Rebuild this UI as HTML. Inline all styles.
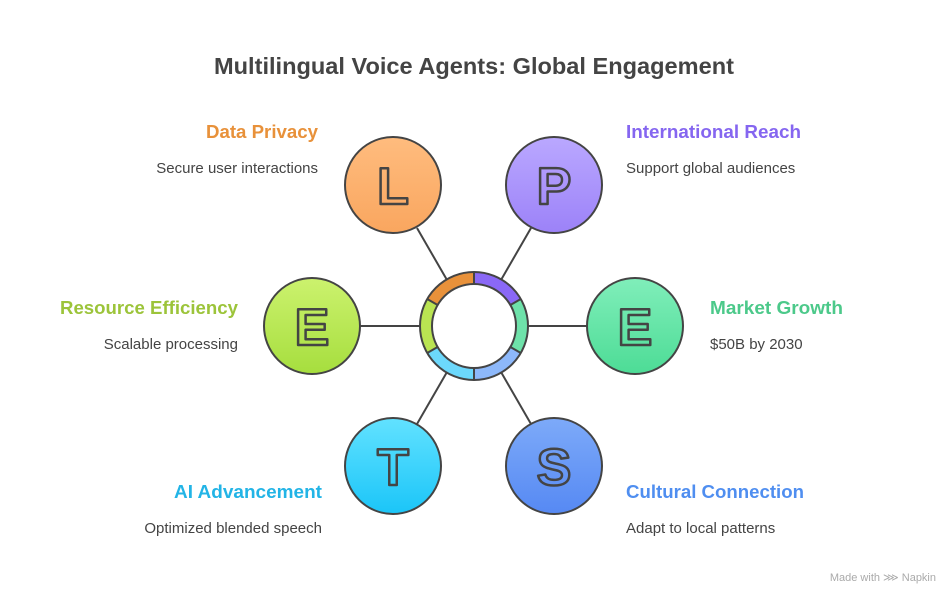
<!DOCTYPE html>
<html><head><meta charset="utf-8"><style>
html,body{margin:0;padding:0;background:#fff;}
svg{display:block;}
text{font-family:"Liberation Sans",sans-serif;}
</style></head><body>
<svg width="948" height="592" viewBox="0 0 948 592" xmlns="http://www.w3.org/2000/svg">
<defs>
<linearGradient id="gL" x1="0" y1="0" x2="0" y2="1"><stop offset="0" stop-color="#FFBC7E"/><stop offset="1" stop-color="#F9A65F"/></linearGradient>
<linearGradient id="gP" x1="0" y1="0" x2="0" y2="1"><stop offset="0" stop-color="#BAA8FF"/><stop offset="1" stop-color="#9C82F8"/></linearGradient>
<linearGradient id="gE2" x1="0" y1="0" x2="0" y2="1"><stop offset="0" stop-color="#80EEBA"/><stop offset="1" stop-color="#4DDC96"/></linearGradient>
<linearGradient id="gS" x1="0" y1="0" x2="0" y2="1"><stop offset="0" stop-color="#7DAAF9"/><stop offset="1" stop-color="#5689F3"/></linearGradient>
<linearGradient id="gT" x1="0" y1="0" x2="0" y2="1"><stop offset="0" stop-color="#62E2FF"/><stop offset="1" stop-color="#1BC5F8"/></linearGradient>
<linearGradient id="gE1" x1="0" y1="0" x2="0" y2="1"><stop offset="0" stop-color="#CCF26E"/><stop offset="1" stop-color="#A6DE3E"/></linearGradient>
</defs>
<text x="474" y="74" text-anchor="middle" font-size="23" font-weight="bold" fill="#444" textLength="520" lengthAdjust="spacingAndGlyphs">Multilingual Voice Agents: Global Engagement</text>

<g stroke="#444" stroke-width="2">
<line x1="447" y1="280" x2="417" y2="228"/>
<line x1="501" y1="280" x2="531" y2="228"/>
<line x1="528" y1="326" x2="587" y2="326"/>
<line x1="420" y1="326" x2="359" y2="326"/>
<line x1="447" y1="372" x2="417" y2="424"/>
<line x1="501" y1="372" x2="531" y2="424"/>
</g>

<g fill="none" stroke-width="12">
<path d="M432.43 302 A48 48 0 0 1 474 278" stroke="#E8913A"/>
<path d="M474 278 A48 48 0 0 1 515.57 302" stroke="#8A68F6"/>
<path d="M515.57 302 A48 48 0 0 1 515.57 350" stroke="#6EE2AA"/>
<path d="M515.57 350 A48 48 0 0 1 474 374" stroke="#8DB8FA"/>
<path d="M474 374 A48 48 0 0 1 432.43 350" stroke="#6CD8FC"/>
<path d="M432.43 350 A48 48 0 0 1 432.43 302" stroke="#BAE452"/>
</g>
<g fill="none" stroke="#444" stroke-width="2">
<circle cx="474" cy="326" r="54"/>
<circle cx="474" cy="326" r="42"/>
<line x1="474" y1="272" x2="474" y2="284"/>
<line x1="474" y1="368" x2="474" y2="380"/>
<line x1="510.4" y1="305" x2="520.8" y2="299"/>
<line x1="510.4" y1="347" x2="520.8" y2="353"/>
<line x1="437.6" y1="305" x2="427.2" y2="299"/>
<line x1="437.6" y1="347" x2="427.2" y2="353"/>
</g>

<g stroke="#444" stroke-width="2">
<circle cx="393" cy="185" r="48" fill="url(#gL)"/>
<circle cx="554" cy="185" r="48" fill="url(#gP)"/>
<circle cx="635" cy="326" r="48" fill="url(#gE2)"/>
<circle cx="554" cy="466" r="48" fill="url(#gS)"/>
<circle cx="393" cy="466" r="48" fill="url(#gT)"/>
<circle cx="312" cy="326" r="48" fill="url(#gE1)"/>
</g>
<g font-size="52" font-weight="bold" fill="none" stroke="#444" stroke-width="2.5" stroke-linejoin="round" text-anchor="middle">
<text x="393" y="204">L</text>
<text x="554" y="204">P</text>
<text x="635" y="345">E</text>
<text x="554" y="485">S</text>
<text x="393" y="485">T</text>
<text x="312" y="345">E</text>
</g>

<g font-size="18.5" font-weight="bold">
<text x="318" y="138" text-anchor="end" fill="#E8913A" textLength="112" lengthAdjust="spacingAndGlyphs">Data Privacy</text>
<text x="626" y="138" fill="#8566F0" textLength="175" lengthAdjust="spacingAndGlyphs">International Reach</text>
<text x="710" y="314" fill="#4CC98A" textLength="133" lengthAdjust="spacingAndGlyphs">Market Growth</text>
<text x="238" y="314" text-anchor="end" fill="#9CC43A" textLength="178" lengthAdjust="spacingAndGlyphs">Resource Efficiency</text>
<text x="322" y="498" text-anchor="end" fill="#22B4E6" textLength="148" lengthAdjust="spacingAndGlyphs">AI Advancement</text>
<text x="626" y="498" fill="#4F8EF0" textLength="178" lengthAdjust="spacingAndGlyphs">Cultural Connection</text>
</g>
<g font-size="15" fill="#444">
<text x="318" y="173" text-anchor="end">Secure user interactions</text>
<text x="626" y="173">Support global audiences</text>
<text x="710" y="349">$50B by 2030</text>
<text x="238" y="349" text-anchor="end">Scalable processing</text>
<text x="322" y="533" text-anchor="end">Optimized blended speech</text>
<text x="626" y="533">Adapt to local patterns</text>
</g>
<text x="936" y="581" text-anchor="end" font-size="11" fill="#aaa">Made with ⋙ Napkin</text>
</svg>
</body></html>
